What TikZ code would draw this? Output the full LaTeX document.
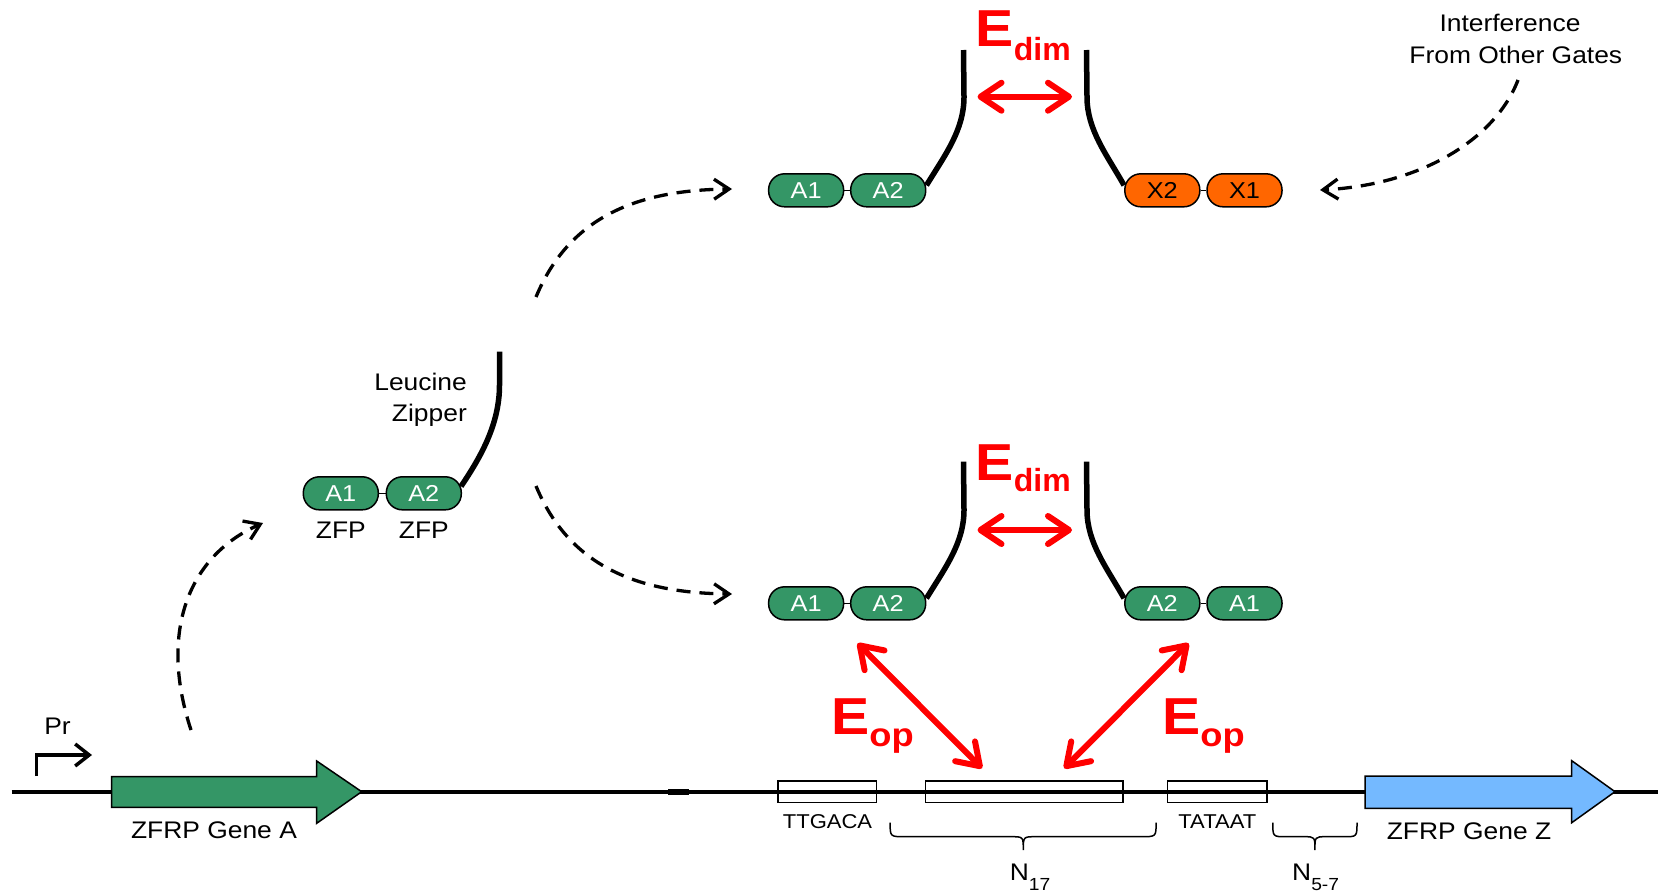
\documentclass[tikz,border=0pt]{standalone}
\usepackage{fontspec}
\setmainfont{Liberation Sans}[FakeStretch=1.1]
\usetikzlibrary{arrows.meta,calc}
\definecolor{zgreen}{RGB}{52,150,102}
\definecolor{zorange}{RGB}{255,102,0}
\definecolor{zblue}{RGB}{116,185,255}
\definecolor{zred}{RGB}{255,0,0}
\newcommand{\myfs}[1]{\fontsize{#1}{#1}\selectfont}
\begin{document}
\begin{tikzpicture}[x=1pt,y=-1pt,
  pill/.style={draw=black, line width=1.5pt, fill=zgreen, text=white, rounded corners=16pt,
    minimum width=75pt, minimum height=33pt, inner sep=0pt, font=\myfs{23}},
  pillx/.style={pill, fill=zorange, text=black},
  link/.style={draw=black, line width=1.5pt},
  zipper/.style={draw=black, line width=5.5pt},
  txt/.style={inner sep=0pt, font=\myfs{24}},
  small/.style={inner sep=0pt, font=\myfs{20}},
  elbl/.style={inner sep=0pt, anchor=base west, text=zred, font=\myfs{52}\bfseries},
  redarrow/.style={draw=zred, line width=6pt,
    {Straight Barb[length=21pt,width=28pt,round]}-{Straight Barb[length=21pt,width=28pt,round]}},
  dasharrow/.style={draw=black, line width=3.3pt, dash pattern=on 14pt off 9pt,
    -{Straight Barb[length=15pt,width=20pt]}},
  opbox/.style={draw=black, line width=1.5pt},
  brace/.style={draw=black, line width=1.5pt},
  gene/.style={draw=black, line width=1.5pt}
]
\useasboundingbox (0,0) rectangle (1664,894);

% DNA line
\coordinate (dnaL) at (11.7,791.7);
\coordinate (dnaR) at (1658.3,791.7);
\draw[line width=4pt] (dnaL) -- (dnaR);
\draw[line width=5.5pt] (668.3,792) -- (689.3,792);

% gene arrows
\draw[gene, fill=zgreen] (111.7,776.7) -- (316.7,776.7) -- (316.7,761) -- (361.7,791.7)
  -- (316.7,823.3) -- (316.7,807.3) -- (111.7,807.3) -- cycle;
\draw[gene, fill=zblue] (1365,776) -- (1571.7,776) -- (1571.7,760.7) -- (1615,791.7)
  -- (1571.7,822.7) -- (1571.7,808.3) -- (1365,808.3) -- cycle;
\node[txt, anchor=base] (geneA) at (214,838.3) {ZFRP Gene A};
\node[txt, anchor=base] (geneZ) at (1469,839) {ZFRP Gene Z};

% promoter
\coordinate (pr0) at (36.7,776);
\coordinate (pr1) at (92,755);
\draw[line width=3.5pt, -{Straight Barb[length=14pt,width=22pt]}] (pr0) |- (pr1);
\node[txt, anchor=base] (prlbl) at (57.5,734) {Pr};

% operator boxes
\draw[opbox] (778,781) rectangle (876.7,802.7);
\draw[opbox] (925.7,781) rectangle (1122.8,802.7);
\draw[opbox] (1167.6,781) rectangle (1267.1,802.7);
\node[small, anchor=base] (ttgaca) at (827.5,828.3) {TTGACA};
\node[small, anchor=base] (tataat) at (1217.3,828.3) {TATAAT};

% braces
\draw[brace] (890.1,822.7) .. controls (890.1,836.7) .. (905,836.7) -- (1011,836.7)
  .. controls (1023.3,836.7) .. (1023.3,850) .. controls (1023.3,836.7) .. (1035.6,836.7)
  -- (1141,836.7) .. controls (1156.1,836.7) .. (1156.1,822.7);
\draw[brace] (1272.8,822.7) .. controls (1272.8,836.7) .. (1286,836.7) -- (1304,836.7)
  .. controls (1314.9,836.7) .. (1314.9,850) .. controls (1314.9,836.7) .. (1325.8,836.7)
  -- (1344,836.7) .. controls (1357,836.7) .. (1357,822.7);
\node[txt, anchor=base west] (n17) at (1009.7,880.7) {N\raisebox{-9.3pt}{\myfs{17.5}17}};
\node[txt, anchor=base west] (n57) at (1292,880) {N\raisebox{-10pt}{\myfs{17.5}5-7}};

% middle monomer
\node[pill] (mA1) at (340.8,493.3) {A1};
\node[pill] (mA2) at (423.8,493.3) {A2};
\draw[link] (mA1.east) -- (mA2.west);
\coordinate (mZtop) at (499.5,351.7);
\draw[zipper] ([xshift=-1pt,yshift=7pt]mA2.east) .. controls (480,458) and (499.5,425) .. (499.5,385) -- (mZtop);
\node[txt, anchor=base east] (leu) at (467,390) {Leucine};
\node[txt, anchor=base east] (zip) at (467,421.7) {Zipper};
\node[txt, anchor=base] (zfp1) at (340.8,538.3) {ZFP};
\node[txt, anchor=base] (zfp2) at (423.8,538.3) {ZFP};

% top dimer
\node[pill] (tA1) at (806.1,190.3) {A1};
\node[pill] (tA2) at (888.2,190.3) {A2};
\node[pillx] (tX2) at (1162.3,190.3) {X2};
\node[pillx] (tX1) at (1244.5,190.3) {X1};
\draw[link] (tA1.east) -- (tA2.west);
\draw[link] (tX2.east) -- (tX1.west);
\draw[zipper] ([yshift=5pt]tA2.east) .. controls (945,155) and (964,130) .. (964,97) -- (963.5,50);
\draw[zipper] ([yshift=5pt]tX2.west) .. controls (1107,155) and (1087,130) .. (1087,97) -- (1086.5,50);
\coordinate (tEa) at (977.5,96.7);
\coordinate (tEb) at (1072,96.7);
\draw[redarrow] (tEa) -- (tEb);
\node[elbl] (tEdim) at (975.5,46.7) {E\raisebox{-13.3pt}{\myfs{32}\addfontfeature{FakeStretch=1.0}dim}};

% bottom dimer
\node[pill] (bA1) at (806.1,603.3) {A1};
\node[pill] (bA2) at (888.2,603.3) {A2};
\node[pill] (bB2) at (1162.3,603.3) {A2};
\node[pill] (bB1) at (1244.5,603.3) {A1};
\draw[link] (bA1.east) -- (bA2.west);
\draw[link] (bB2.east) -- (bB1.west);
\draw[zipper] ([yshift=5pt]bA2.east) .. controls (945,568) and (964,543) .. (964,510) -- (963.5,461.7);
\draw[zipper] ([yshift=5pt]bB2.west) .. controls (1107,568) and (1087,543) .. (1087,510) -- (1086.5,461.7);
\coordinate (bEa) at (977.5,530);
\coordinate (bEb) at (1072,530);
\draw[redarrow] (bEa) -- (bEb);
\node[elbl] (bEdim) at (975.5,480) {E\raisebox{-11.7pt}{\myfs{32}\addfontfeature{FakeStretch=1.0}dim}};

% Eop arrows
\coordinate (op1a) at (857.6,643.3);
\coordinate (op1b) at (982,768.3);
\coordinate (op2a) at (1188.6,643.3);
\coordinate (op2b) at (1064.2,768.3);
\draw[redarrow] (op1a) -- (op1b);
\draw[redarrow] (op2a) -- (op2b);
\node[elbl] (eop1) at (831,734.3) {E\raisebox{-12.4pt}{\myfs{33}op}};
\node[elbl] (eop2) at (1162,734.3) {E\raisebox{-12.4pt}{\myfs{33}op}};

% interference
\node[txt, anchor=base] (intf1) at (1510,31.7) {Interference};
\node[txt, anchor=base] (intf2) at (1515.8,63.3) {From Other Gates};

% dashed arrows
\coordinate (dA0) at (191,730);
\coordinate (dA1) at (263,523);
\draw[dasharrow] (dA0) .. controls (158,630) and (190,555) .. (dA1);
\coordinate (dB0) at (536,297);
\coordinate (dB1) at (732,189);
\draw[dasharrow] (dB0) .. controls (570,215) and (640,190) .. (dB1);
\coordinate (dC0) at (536,486);
\coordinate (dC1) at (732,594);
\draw[dasharrow] (dC0) .. controls (570,568) and (640,593) .. (dC1);
\coordinate (dD0) at (1518,80);
\coordinate (dD1) at (1320,190);
\draw[dasharrow] (dD0) .. controls (1495,140) and (1420,185) .. (dD1);
\end{tikzpicture}
\end{document}
